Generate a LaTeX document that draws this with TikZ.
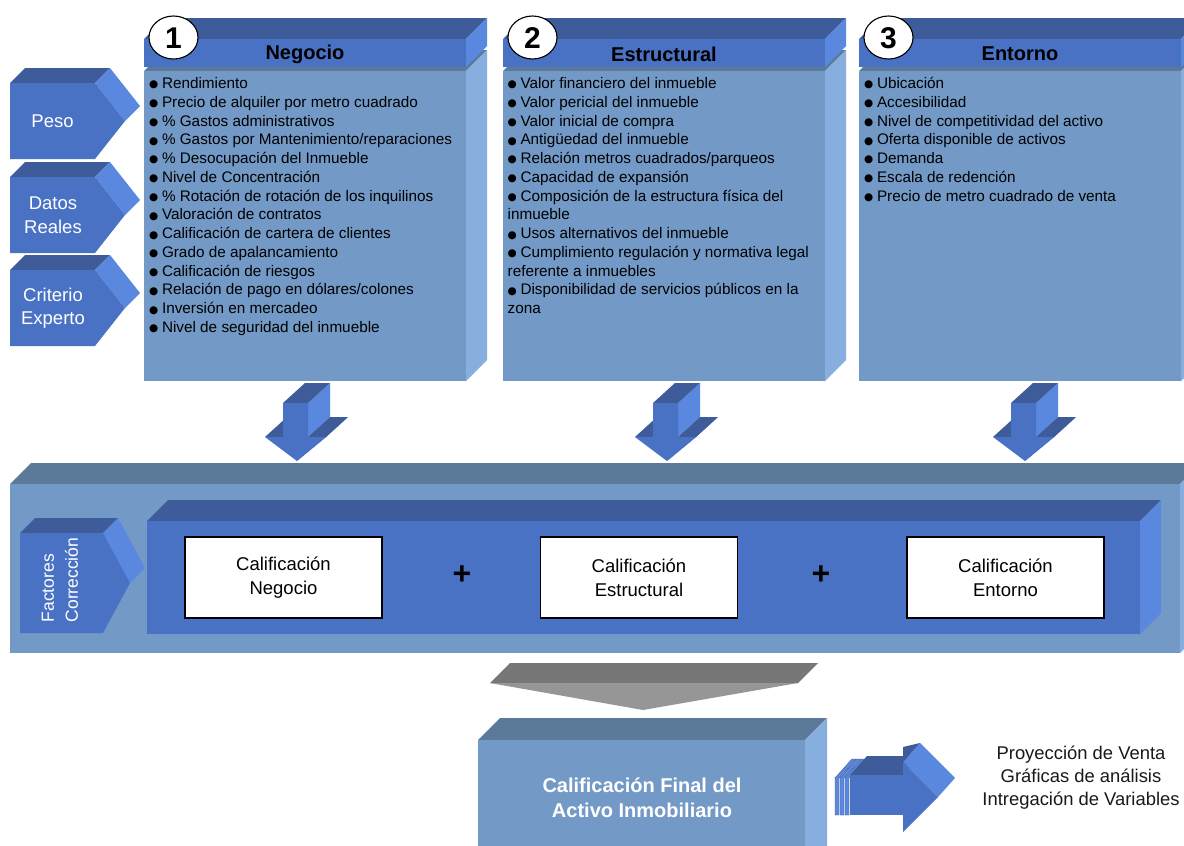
\documentclass[tikz,border=0pt]{standalone}
\usepackage{fontspec}
\setmainfont{Liberation Sans}
\newfontfamily\dejavu{DejaVu Sans}
\definecolor{topb}{HTML}{3E5C99}
\definecolor{frontb}{HTML}{4A72C4}
\definecolor{sideb}{HTML}{5B88DF}
\definecolor{steel}{HTML}{7399C6}
\definecolor{steelside}{HTML}{86AEDF}
\definecolor{steeltop}{HTML}{5B7A99}
\definecolor{gtop}{HTML}{777777}
\definecolor{gfront}{HTML}{969696}
\newcommand\fs[2]{\fontsize{#1}{#2}\selectfont}
\newcommand\bl{\makebox[12.8pt][l]{\raisebox{0.6pt}{\dejavu\fs{10.5}{10.5}●}}}
% cuboid: x1 y1 x2 y2 depth top front side
\newcommand\cub[8]{%
 \fill[#6] (#1,#2) -- ({#1+#5},{#2-#5}) -- ({#3+#5},{#2-#5}) -- (#3,#2) -- cycle;
 \fill[#8] (#3,#2) -- ({#3+#5},{#2-#5}) -- ({#3+#5},{#4-#5}) -- (#3,#4) -- cycle;
 \fill[#7] (#1,#2) rectangle (#3,#4);}
% chevron: x1 (left) y (front top) w (to notch) h depth tipoffset
\newcommand\chev[6]{%
 \fill[topb] (#1,#2) -- ({#1+#5},{#2-#5}) -- ({#1+#3+#5},{#2-#5}) -- ({#1+#3},#2) -- cycle;
 \fill[sideb] ({#1+#3},#2) -- ({#1+#3+#5},{#2-#5}) -- ({#1+#3+#6+#5},{#2+#4/2-#5}) -- ({#1+#3+#6},{#2+#4/2}) -- cycle;
 \fill[frontb] (#1,#2) -- ({#1+#3},#2) -- ({#1+#3+#6},{#2+#4/2}) -- ({#1+#3},{#2+#4}) -- (#1,{#2+#4}) -- cycle;}
% down arrow with shaft left s
\newcommand\darrow[1]{%
 \fill[frontb] ({#1+43},437) -- ({#1+65},417) -- ({#1+36},441) -- ({#1+14},461) -- cycle;
 \fill[sideb] ({#1+25},403) -- ({#1+47},383) -- ({#1+47},417) -- ({#1+25},437) -- cycle;
 \fill[topb] ({#1-18},437) -- (#1,437) -- ({#1+22},417) -- ({#1+4},417) -- cycle;
 \fill[topb] ({#1+25},437) -- ({#1+43},437) -- ({#1+65},417) -- ({#1+47},417) -- cycle;
 \fill[topb] (#1,403) -- ({#1+25},403) -- ({#1+47},383) -- ({#1+22},383) -- cycle;
 \fill[frontb] (#1,403) -- ({#1+25},403) -- ({#1+25},437) -- ({#1+43},437) -- ({#1+14},461) -- ({#1-18},437) -- (#1,437) -- cycle;}
\tikzset{
 listitem/.style={anchor=base west, inner sep=0pt, font=\fs{15.3}{18.8}, text=black},
 headtxt/.style={inner sep=0pt, font=\bfseries\fs{20}{24}, text=black},
 numtxt/.style={inner sep=0pt, font=\bfseries\fs{30}{30}, text=black},
 chevtxt/.style={inner sep=0pt, align=center, font=\fs{18.5}{23.5}, text=white},
 calbox/.style={draw=black, line width=1.1pt, fill=white, minimum width=197pt, minimum height=81pt, align=center, font=\fs{18.5}{24}, inner sep=0pt},
 plustxt/.style={inner sep=0pt, font=\bfseries\fs{32}{32}},
}
\begin{document}
\begin{tikzpicture}[x=1pt,y=-1pt]
\clip (0,0) rectangle (1184,846);
\fill[white] (0,0) rectangle (1184,846);

% ---- three columns ----
\foreach \c/\n/\h in {144/1/Negocio, 503/2/Estructural, 859/3/Entorno}{
 \cub{\c}{71}{\c+322}{381}{21}{steeltop}{steel}{steelside}
 \cub{\c}{39}{\c+322}{67}{21}{topb}{frontb}{sideb}
 \node[headtxt] (head\n) at (\c+161,54) {\h};
 \draw[fill=white, line width=1.1pt] (\c+29.5,37.5) ellipse [x radius=24.5, y radius=21.5];
 \node[numtxt] (num\n) at (\c+29.5,38) {\n};
}

% ---- lists ----
\foreach \t [count=\i] in {Rendimiento, Precio de alquiler por metro cuadrado, \% Gastos administrativos, \% Gastos por Mantenimiento/reparaciones, \% Desocupación del Inmueble, Nivel de Concentración, \% Rotación de rotación de los inquilinos, Valoración de contratos, Calificación de cartera de clientes, Grado de apalancamiento, Calificación de riesgos, Relación de pago en dólares/colones, Inversión en mercadeo, Nivel de seguridad del inmueble}
 \node[listitem] (la\i) at (149,88.5+18.77*\i-18.77) {\bl\t};

\foreach \t [count=\i] in {\bl Valor financiero del inmueble, \bl Valor pericial del inmueble, \bl Valor inicial de compra, \bl Antigüedad del inmueble, \bl Relación metros cuadrados/parqueos, \bl Capacidad de expansión, \bl Composición de la estructura física del, inmueble, \bl Usos alternativos del inmueble, \bl Cumplimiento regulación y normativa legal, referente a inmuebles, \bl Disponibilidad de servicios públicos en la, zona}
 \node[listitem] (lb\i) at (507.5,88.5+18.77*\i-18.77) {\t};

\foreach \t [count=\i] in {Ubicación, Accesibilidad, Nivel de competitividad del activo, Oferta disponible de activos, Demanda, Escala de redención, Precio de metro cuadrado de venta}
 \node[listitem] (lc\i) at (864,88.5+18.77*\i-18.77) {\bl\t};

% ---- left chevrons ----
\chev{10}{83}{85}{76}{15}{30}
\node[chevtxt] (peso) at (52.5,121) {Peso};
\chev{10}{177}{85}{76}{15}{30}
\node[chevtxt] (datos) at (53,215) {Datos\\Reales};
\chev{10}{270}{85}{76}{15}{30}
\node[chevtxt] (crit) at (53,308) {Criterio\\Experto};

% ---- down arrows ----
\darrow{283}
\darrow{653}
\darrow{1011}

% ---- big band ----
\cub{10}{484}{1180}{653}{21}{steeltop}{steel}{steelside}
\cub{147}{521}{1140}{634}{21}{topb}{frontb}{sideb}
\chev{20}{533}{83}{100}{15}{27}
\node[chevtxt, rotate=90, align=left, font=\fs{17.5}{24}] (fact) at (60,580) {Factores\\Corrección};

\node[calbox] (cneg) at (283.5,577.5) {Calificación\\Negocio};
\node[calbox] (cest) at (639,577.5) {Calificación\\Estructural};
\node[calbox] (cent) at (1005.5,577.5) {Calificación\\Entorno};
\node[plustxt] (p1) at (462,575) {+};
\node[plustxt] (p2) at (821,575) {+};

% ---- funnel ----
\fill[gtop] (490,683) -- (510,663) -- (818,663) -- (798,683) -- cycle;
\fill[gfront] (490,683) -- (798,683) -- (643,710) -- cycle;

% ---- final box ----
\cub{478}{740}{805}{880}{22}{steeltop}{steel}{steelside}
\node[inner sep=0pt, align=center, text=white, font=\bfseries\fs{20}{25}] (final) at (642,797.5) {Calificación Final del\\Activo Inmobiliario};

% ---- right arrow ----
\foreach \k in {0,1,2}{
 \fill[sideb, draw=topb, line width=0.4pt] (835+5*\k,815) -- (835+5*\k,778) -- (852+5*\k,759) -- (856+5*\k,759) -- (839+5*\k,778) -- (839+5*\k,815) -- cycle;
}
\fill[topb] (850,775) -- (867,756) -- (920,756) -- (903,775) -- cycle;
\fill[sideb] (903,762) -- (920,743) -- (955,778) -- (938,797) -- cycle;
\fill[topb] (903,747) -- (920,743) -- (903,762) -- cycle;
\fill[frontb] (850,775) rectangle (903,815);
\fill[frontb] (903,762) -- (938,797) -- (903,832) -- cycle;

\node[inner sep=0pt, align=center, text=black!90, font=\fs{18.4}{23}] (out) at (1081,778) {Proyección de Venta\\Gráficas de análisis\\Intregación de Variables};
\end{tikzpicture}
\end{document}
